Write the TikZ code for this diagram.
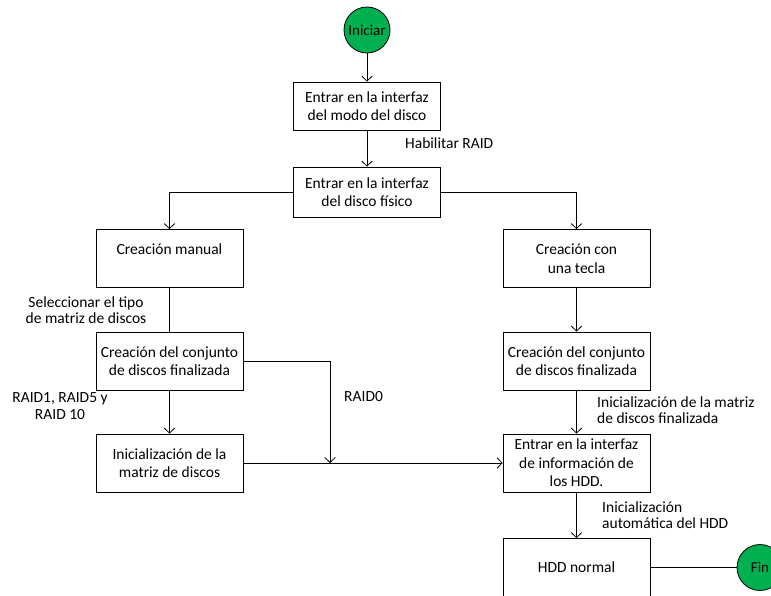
\documentclass[tikz,border=0pt]{standalone}
\usepackage{fontspec}
\setmainfont{Carlito}
\usetikzlibrary{arrows.meta}
\definecolor{startgreen}{HTML}{00B050}
\tikzset{
  box/.style={draw, line width=0.8pt, minimum width=147pt, minimum height=58pt, align=center, inner sep=2pt,
    font=\fontsize{15.5}{18.5}\selectfont},
  term/.style={draw, line width=0.8pt, circle, fill=startgreen, minimum size=46pt, inner sep=0pt,
    font=\fontsize{15}{16}\selectfont},
  note/.style={font=\fontsize{15.5}{16.5}\selectfont, inner sep=0pt},
  flow/.style={line width=0.8pt, -{Straight Barb[length=5pt,width=10.5pt]}},
  plain/.style={line width=0.8pt}
}

\begin{document}
\begin{tikzpicture}[x=1pt,y=-1pt]
\useasboundingbox (0,0) rectangle (771,595);
\node[term] (start) at (367,30) {Iniciar};
\node[box, minimum height=48pt] (modo) at (367,106) {Entrar en la interfaz\\del modo del disco};
\node[box, minimum height=50pt] (fisico) at (367,192) {Entrar en la interfaz\\del disco f\'isico};
\node[box] (manual) at (169.5,258.5) {Creaci\'on manual\\~};
\node[box] (tecla) at (576.5,258.5) {Creaci\'on con\\una tecla};
\node[box] (conjA) at (169.5,361) {Creaci\'on del conjunto\\de discos finalizada};
\node[box] (conjB) at (576.5,361) {Creaci\'on del conjunto\\de discos finalizada};
\node[box] (init) at (169.5,463) {Inicializaci\'on de la\\matriz de discos};
\node[box] (info) at (576.5,463) {Entrar en la interfaz\\de informaci\'on de\\los HDD.};
\node[box] (hdd) at (576.5,567.5) {HDD normal};
\node[term] (fin) at (760,567.5) {Fin};
\coordinate (join) at (330,463);
% labels
\node[note, anchor=west] (lblraid) at (405,143) {Habilitar RAID};
\node[note, align=center] (lbltipo) at (86,310) {Seleccionar el tipo\\de matriz de discos};
\node[note, align=center] (lblraids) at (60,406) {RAID1, RAID5 y\\RAID 10};
\node[note, anchor=west] (lblzero) at (344,397) {RAID0};
\node[note, anchor=west, align=left] (lblmatriz) at (597,410) {Inicializaci\'on de la matriz\\de discos finalizada};
\node[note, anchor=west, align=left] (lblauto) at (602,515) {Inicializaci\'on\\autom\'atica del HDD};
% connectors
\draw[flow] (start) -- (modo);
\draw[flow] (modo) -- (fisico);
\draw[flow] (fisico.west) -| (manual.north);
\draw[flow] (fisico.east) -| (tecla.north);
\draw[plain] (manual) -- (conjA);
\draw[flow] (conjA) -- (init);
\draw[flow] (conjA.east) -| (join);
\draw[flow] (init) -- (info);
\draw[flow] (tecla) -- (conjB);
\draw[flow] (conjB) -- (info);
\draw[flow] (info) -- (hdd);
\draw[plain] (hdd) -- (fin);
\end{tikzpicture}
\end{document}
